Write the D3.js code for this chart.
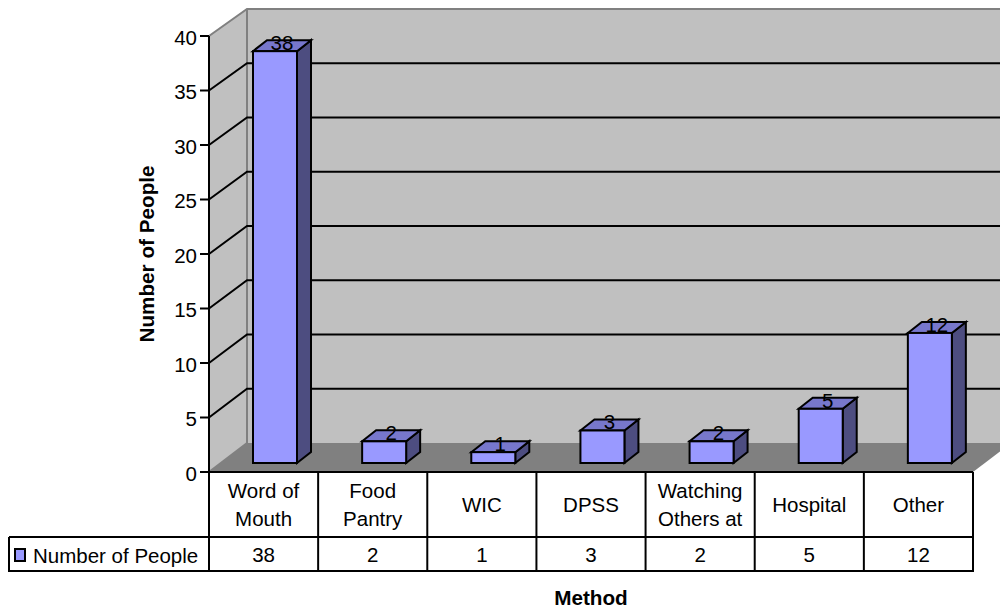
<!DOCTYPE html>
<html>
<head>
<meta charset="utf-8">
<style>
html,body{margin:0;padding:0;background:#fff}
svg{display:block}
text{font-family:"Liberation Sans",Arial,sans-serif;fill:#000}
</style>
<script src="https://cdnjs.cloudflare.com/ajax/libs/d3/7.8.5/d3.min.js"></script>
</head>
<body>
<svg id="chart" width="1000" height="610"></svg>
<script>
// Survey results: how people heard about the programme
const categories = [["Word of","Mouth"],["Food","Pantry"],["WIC"],["DPSS"],["Watching","Others at"],["Hospital"],["Other"]];
const values = [38,2,1,3,2,5,12];
const yTicks = [0,5,10,15,20,25,30,35,40];
const seriesName = "Number of People";
const xTitle = "Method";
const yTitle = "Number of People";

const svg = d3.select("#chart");
const W = 1000;
const labelSize = 20.5, titleSize = 20.7;

// Box geometry of the 3-D plot
const x0 = 209, x1 = 973, backDx = 38;
const yFront = d3.scaleLinear().domain([0,40]).range([472,36]);
const yBack = d3.scaleLinear().domain([0,40]).range([443,9]);
const yBar = d3.scaleLinear().domain([0,40]).range([463,29.5]);
const band = d3.scaleBand().domain(d3.range(categories.length)).range([x0,x1]);
const barOffset = 44, barW = 44, depthX = 14, depthY = 11;

const poly = pts => pts.map(p => p.join(",")).join(" ");

// Walls and floor
svg.append("polygon").attr("fill","#c0c0c0")
  .attr("points",poly([[x0,yFront(40)],[x0+backDx,yBack(40)],[W,yBack(40)],[W,yBack(0)],[x0+backDx,yBack(0)],[x0,yFront(0)]]));
svg.append("polygon").attr("fill","#808080")
  .attr("points",poly([[x0,yFront(0)],[x0+backDx,yBack(0)],[W,yBack(0)],[W,yFront(0)-(W-x1)*(yFront(0)-yBack(0))/backDx],[x1,yFront(0)]]));

// Wall edges
const edge = svg.append("g").attr("stroke","#808080").attr("stroke-width",2).attr("fill","none");
edge.append("polyline").attr("points",poly([[x0,yFront(40)],[x0+backDx,yBack(40)],[W,yBack(40)]]));
edge.append("line").attr("x1",x0+backDx).attr("x2",x0+backDx).attr("y1",yBack(40)).attr("y2",yBack(0));
edge.append("line").attr("x1",x0).attr("y1",yFront(0)).attr("x2",x0+backDx).attr("y2",yBack(0));

// Gridlines across both walls
const grid = svg.append("g").attr("stroke","#000").attr("stroke-width",2).attr("fill","none");
yTicks.filter(t => t>0 && t<40).forEach(t => {
  grid.append("polyline").attr("points",poly([[x0,yFront(t)],[x0+backDx,yBack(t)],[W,yBack(t)]]));
});

// Bars: side, top, then front face
const bars = svg.append("g").attr("stroke","#000").attr("stroke-width",2).attr("stroke-linejoin","miter")
  .selectAll("g").data(values).join("g");
bars.each(function(v,i){
  const g = d3.select(this);
  const l = band(i)+barOffset, r = l+barW, t = yBar(v), b = yBar(0);
  g.append("polygon").attr("fill","#4d4d80")
    .attr("points",poly([[r,t],[r+depthX,t-depthY],[r+depthX,b-depthY],[r,b]]));
  g.append("polygon").attr("fill","#7777cc")
    .attr("points",poly([[l,t],[l+depthX,t-depthY],[r+depthX,t-depthY],[r,t]]));
  g.append("rect").attr("fill","#9999ff").attr("x",l).attr("y",t).attr("width",barW).attr("height",b-t);
});

// Value labels sit over the bar tops
svg.append("g").selectAll("text").data(values).join("text")
  .attr("x",(v,i)=>band(i)+barOffset+barW/2+depthX/2)
  .attr("y",v=>yBar(v)-depthY/2-3)
  .attr("text-anchor","middle").attr("font-size",labelSize).attr("dominant-baseline","central")
  .text(v=>v);

// Value axis
const axis = svg.append("g");
axis.append("line").attr("x1",x0).attr("x2",x0).attr("y1",yFront(40)).attr("y2",yFront(0))
  .attr("stroke","#000").attr("stroke-width",2);
axis.selectAll("line.tick").data(yTicks).join("line").attr("class","tick")
  .attr("x1",x0-9).attr("x2",x0).attr("y1",d=>yFront(d)).attr("y2",d=>yFront(d))
  .attr("stroke","#000").attr("stroke-width",2);
axis.selectAll("text").data(yTicks).join("text")
  .attr("x",x0-12).attr("y",d=>yFront(d)+1).attr("text-anchor","end")
  .attr("dominant-baseline","central").attr("font-size",labelSize).text(d=>d);

// Data table below the plot
const tTop = yFront(0), tMid = 537, tBot = 571, tLeft = 9;
const table = svg.append("g").attr("stroke","#000").attr("stroke-width",2).attr("fill","none");
table.append("line").attr("x1",x0).attr("x2",x1).attr("y1",tTop).attr("y2",tTop);
table.append("line").attr("x1",tLeft).attr("x2",x1).attr("y1",tMid).attr("y2",tMid);
table.append("line").attr("x1",tLeft-1).attr("x2",x1+1).attr("y1",tBot).attr("y2",tBot);
table.append("line").attr("x1",tLeft).attr("x2",tLeft).attr("y1",tMid).attr("y2",tBot);
d3.range(categories.length+1).forEach(i => {
  const x = i===categories.length ? x1 : band(i);
  table.append("line").attr("x1",x).attr("x2",x).attr("y1",tTop).attr("y2",tBot);
});

const lineGap = 27.5;
categories.forEach((lines,i) => {
  const cx = band(i)+band.bandwidth()/2;
  const start = (tTop+tMid)/2 - (lines.length-1)*lineGap/2;
  lines.forEach((s,j) => {
    svg.append("text").attr("x",cx).attr("y",start+j*lineGap).attr("text-anchor","middle")
      .attr("dominant-baseline","central").attr("font-size",labelSize).text(s);
  });
});
svg.append("g").selectAll("text").data(values).join("text")
  .attr("x",(v,i)=>band(i)+band.bandwidth()/2).attr("y",(tMid+tBot)/2)
  .attr("text-anchor","middle").attr("dominant-baseline","central").attr("font-size",labelSize).text(v=>v);

// Legend key and series name in the table's first column
svg.append("rect").attr("x",15).attr("y",549).attr("width",10).attr("height",12)
  .attr("fill","#9999ff").attr("stroke","#000").attr("stroke-width",2);
svg.append("text").attr("x",33).attr("y",(tMid+tBot)/2+1).attr("dominant-baseline","central")
  .attr("font-size",labelSize).text(seriesName);

// Axis titles
svg.append("text").attr("transform","translate(146,254) rotate(-90)").attr("text-anchor","middle")
  .attr("dominant-baseline","central").attr("font-size",titleSize).attr("font-weight","bold").text(yTitle);
svg.append("text").attr("x",591).attr("y",597).attr("text-anchor","middle")
  .attr("dominant-baseline","central").attr("font-size",titleSize).attr("font-weight","bold").text(xTitle);
</script>
</body>
</html>
